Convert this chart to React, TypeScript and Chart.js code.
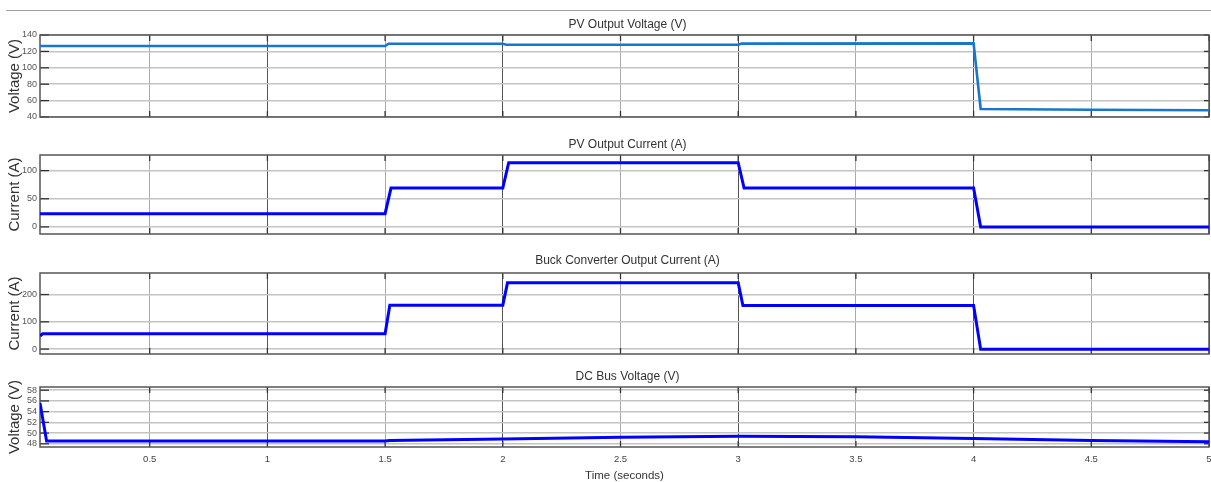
import React, { useEffect, useRef } from "react";
import { Chart, registerables } from "chart.js";

Chart.register(...registerables);

// ---------- data ----------
const xTickValues = [0.5, 1, 1.5, 2, 2.5, 3, 3.5, 4, 4.5, 5];
const timeMin = 0.034;
const timeMax = 5;

const pvVoltageTime = [0.034, 1.5, 1.515, 2.0, 2.015, 3.0, 3.015, 4.0, 4.03, 4.5, 5.0];
const pvVoltageValues = [126.5, 126.5, 129.3, 129.3, 128.1, 128.1, 129.5, 129.8, 49.8, 48.8, 48.3];
const pvVoltageTicks = [40, 60, 80, 100, 120, 140];

const pvCurrentTime = [0.034, 1.5, 1.525, 2.0, 2.025, 3.0, 3.025, 4.0, 4.03, 5.0];
const pvCurrentValues = [23.5, 23.5, 69, 69, 114, 114, 69, 69, 0, 0];
const pvCurrentTicks = [0, 50, 100];

const buckCurrentTime = [0.034, 0.045, 1.5, 1.52, 2.0, 2.02, 3.0, 3.02, 4.0, 4.03, 5.0];
const buckCurrentValues = [48, 56, 56, 161, 161, 243, 243, 160, 160, -1, -1];
const buckCurrentTicks = [0, 100, 200];

const dcBusTime = [0.034, 0.062, 1.0, 1.5, 1.52, 2.0, 2.5, 3.0, 3.5, 4.0, 4.5, 5.0];
const dcBusValues = [55.6, 48.5, 48.5, 48.5, 48.6, 48.9, 49.2, 49.4, 49.3, 49.0, 48.6, 48.4];
const dcBusTicks = [48, 50, 52, 54, 56, 58];

const FONT = '"Liberation Sans", Arial, sans-serif';

const decorPlugin = {
  id: "decor",
  beforeDatasetsDraw(chart: any) {
    const { ctx, chartArea: a, scales } = chart;
    ctx.save();
    ctx.strokeStyle = "#333";
    ctx.lineWidth = 1.3;
    const seg = (x1: number, y1: number, x2: number, y2: number) => {
      ctx.beginPath();
      ctx.moveTo(x1, y1);
      ctx.lineTo(x2, y2);
      ctx.stroke();
    };
    scales.y.ticks.forEach((t: any) => {
      const y = scales.y.getPixelForValue(t.value);
      seg(a.left, y, a.left + 9, y);
      seg(a.right - 5, y, a.right, y);
    });
    scales.x.ticks.forEach((t: any) => {
      const x = scales.x.getPixelForValue(t.value);
      seg(x, a.top, x, a.top + 6);
      seg(x, a.bottom - 6, x, a.bottom);
    });
    ctx.strokeStyle = "#555";
    ctx.lineWidth = 1.5;
    ctx.strokeRect(a.left, a.top, a.right - a.left, a.bottom - a.top);
    ctx.restore();
  },
  afterDraw(chart: any, _args: any, opts: any) {
    const { ctx, chartArea: a } = chart;
    ctx.save();
    ctx.fillStyle = "#333";
    ctx.font = `12px ${FONT}`;
    ctx.textAlign = "center";
    ctx.textBaseline = "middle";
    ctx.fillText(opts.text, (a.left + a.right) / 2 + 3, a.top - opts.offset);
    ctx.restore();
  },
};

type PanelProps = {
  top: number;
  height: number;
  padTop: number;
  xAxisH: number;
  title: string;
  titleOffset: number;
  yTitle: string;
  times: number[];
  values: number[];
  color: string;
  lineWidth: number;
  yMin: number;
  yMax: number;
  yTicks: number[];
  showX: boolean;
};

function Panel(p: PanelProps) {
  const ref = useRef<HTMLCanvasElement | null>(null);
  useEffect(() => {
    if (!ref.current) return;
    const chart = new Chart(ref.current, {
      type: "line",
      data: {
        datasets: [
          {
            data: p.times.map((t, i) => ({ x: t, y: p.values[i] })),
            borderColor: p.color,
            borderWidth: p.lineWidth,
            pointRadius: 0,
            tension: 0,
            fill: false,
          },
        ],
      },
      options: {
        responsive: false,
        animation: false,
        events: [],
        layout: { padding: { top: p.padTop, right: 2, left: 0, bottom: 0 } },
        plugins: {
          legend: { display: false },
          tooltip: { enabled: false },
          decor: { text: p.title, offset: p.titleOffset },
        } as any,
        scales: {
          x: {
            type: "linear",
            min: timeMin,
            max: timeMax,
            afterBuildTicks: (s: any) => {
              s.ticks = xTickValues.map((v) => ({ value: v }));
            },
            afterFit: (s: any) => {
              s.height = p.xAxisH;
              s.paddingLeft = 0;
              s.paddingRight = 0;
            },
            grid: {
              color: (c: any) =>
                c.tick && Number.isInteger(c.tick.value) ? "#555" : "#aaa",
              lineWidth: 1,
              drawTicks: false,
            },
            border: { display: false },
            ticks: {
              display: p.showX,
              padding: 7,
              color: "#444",
              font: { size: 9.5, family: FONT },
              maxRotation: 0,
              autoSkip: false,
              callback: (v: any) => String(v),
            },
            title: {
              display: p.showX,
              text: "Time (seconds)",
              color: "#333",
              font: { size: 11.5, family: FONT, lineHeight: 1 },
              padding: { top: 0, bottom: 0 },
            },
          },
          y: {
            type: "linear",
            min: p.yMin,
            max: p.yMax,
            afterBuildTicks: (s: any) => {
              s.ticks = p.yTicks.map((v) => ({ value: v }));
            },
            afterFit: (s: any) => {
              s.width = 40;
              s.paddingTop = 0;
              s.paddingBottom = 0;
            },
            grid: { color: "#c4c4c4", lineWidth: 1.5, drawTicks: false },
            border: { display: false },
            ticks: {
              padding: 3,
              color: "#555",
              font: { size: 9, family: FONT },
              autoSkip: false,
            },
            title: {
              display: true,
              text: p.yTitle,
              color: "#333",
              font: { size: 15, family: FONT, lineHeight: 1 },
              padding: { top: 7, bottom: 0 },
            },
          },
        },
      },
      plugins: [decorPlugin as any],
    });
    return () => chart.destroy();
  }, []);
  return (
    <canvas
      ref={ref}
      width={1211}
      height={p.height}
      style={{ position: "absolute", left: 0, top: p.top, width: 1211, height: p.height }}
    />
  );
}

export default function App() {
  return (
    <div
      style={{
        position: "absolute",
        left: 0,
        top: 0,
        width: 1211,
        height: 482,
        background: "#fff",
        overflow: "hidden",
      }}
    >
      <div
        style={{
          position: "absolute",
          left: 6,
          top: 10,
          width: 1205,
          height: 0,
          borderTop: "1px solid #a0a0a0",
        }}
      />
      <Panel
        top={12}
        height={108}
        padTop={23}
        xAxisH={3}
        title="PV Output Voltage (V)"
        titleOffset={10}
        yTitle="Voltage (V)"
        times={pvVoltageTime}
        values={pvVoltageValues}
        color="#1976c9"
        lineWidth={2.6}
        yMin={40}
        yMax={140}
        yTicks={pvVoltageTicks}
        showX={false}
      />
      <Panel
        top={122}
        height={116}
        padTop={33}
        xAxisH={4}
        title="PV Output Current (A)"
        titleOffset={10}
        yTitle="Current (A)"
        times={pvCurrentTime}
        values={pvCurrentValues}
        color="#0000ff"
        lineWidth={3}
        yMin={-12.6}
        yMax={127.7}
        yTicks={pvCurrentTicks}
        showX={false}
      />
      <Panel
        top={239}
        height={119}
        padTop={34}
        xAxisH={4}
        title="Buck Converter Output Current (A)"
        titleOffset={12}
        yTitle="Current (A)"
        times={buckCurrentTime}
        values={buckCurrentValues}
        color="#0000ff"
        lineWidth={3}
        yMin={-18}
        yMax={279}
        yTicks={buckCurrentTicks}
        showX={false}
      />
      <Panel
        top={358}
        height={124}
        padTop={29}
        xAxisH={35}
        title="DC Bus Voltage (V)"
        titleOffset={10}
        yTitle="Voltage (V)"
        times={dcBusTime}
        values={dcBusValues}
        color="#0000ff"
        lineWidth={3}
        yMin={47.4}
        yMax={58.6}
        yTicks={dcBusTicks}
        showX={true}
      />
    </div>
  );
}
